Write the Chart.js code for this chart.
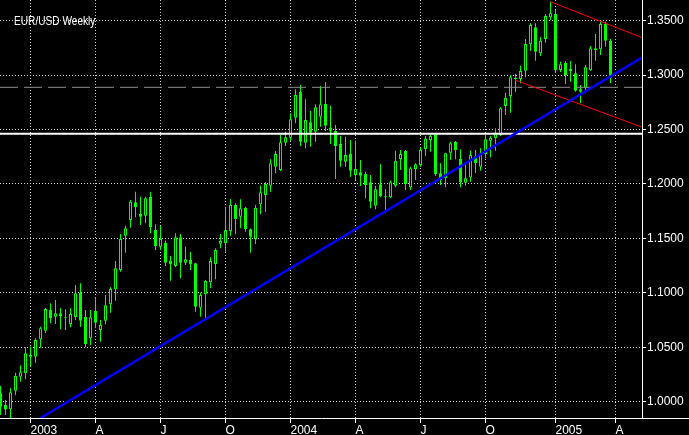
<!DOCTYPE html>
<html>
<head>
<meta charset="utf-8">
<title>EUR/USD Weekly</title>
<script src="https://cdn.jsdelivr.net/npm/chart.js@4.4.0/dist/chart.umd.min.js"></script>
<style>
  html, body { margin: 0; padding: 0; background: #000; }
  #wrap { position: relative; width: 689px; height: 435px; }
  #title {
    position: absolute; left: 14px; top: 14px; color: #fff;
    font: 12.5px "Liberation Sans", Arial, sans-serif;
    transform: scaleX(0.81); transform-origin: 0 0; white-space: nowrap;
  }
</style>
</head>
<body>
<div id="wrap">
  <canvas id="myChart" width="689" height="435"></canvas>
  <div id="title">EUR/USD Weekly</div>
</div>
<script>
'use strict';

// Weekly candles, Nov 2002 - Mar 2005

let opens = [
  1.0077, 0.9970, 0.9930, 1.0101, 1.0230, 1.0261, 1.0429, 1.0413, 1.0573, 1.0652,
  1.0842, 1.0781, 1.0812, 1.0772, 1.0714, 1.0775, 1.1001, 1.0781, 1.0582, 1.0833,
  1.0659, 1.0744, 1.0895, 1.1033, 1.1210, 1.1525, 1.1669, 1.1832, 1.1724, 1.1709,
  1.1883, 1.1577, 1.1424, 1.1461, 1.1295, 1.1247, 1.1510, 1.1277, 1.1302, 1.1271,
  1.0863, 1.0987, 1.1097, 1.1262, 1.1451, 1.1455, 1.1568, 1.1807, 1.1700, 1.1782,
  1.1584, 1.1495, 1.1813, 1.1899, 1.1984, 1.2159, 1.2128, 1.2379, 1.2425, 1.2609,
  1.2848, 1.2379, 1.2567, 1.2480, 1.2618, 1.2735, 1.2520, 1.2487, 1.2367, 1.2205,
  1.2275, 1.2082, 1.2107, 1.2092, 1.2015, 1.1800, 1.1997, 1.1878, 1.1878, 1.1984,
  1.2230, 1.2303, 1.1970, 1.2138, 1.2174, 1.2321, 1.2404, 1.2465, 1.2098, 1.2052,
  1.2287, 1.2388, 1.2230, 1.2012, 1.2060, 1.2257, 1.2159, 1.2275, 1.2398, 1.2420,
  1.2450, 1.2716, 1.2808, 1.2962, 1.2964, 1.3040, 1.3283, 1.3439, 1.3200, 1.3332,
  1.3531, 1.3561, 1.3047, 1.3114, 1.3056, 1.3017, 1.2870, 1.2879, 1.3047, 1.3246,
  1.3237, 1.3469, 1.3313
];
let highs = [
  1.0144, 1.0016, 1.0123, 1.0266, 1.0334, 1.0500, 1.0505, 1.0582, 1.0689, 1.0863,
  1.0904, 1.0934, 1.0858, 1.0849, 1.0858, 1.1072, 1.1088, 1.0842, 1.0842, 1.0959,
  1.0751, 1.0980, 1.1051, 1.1292, 1.1540, 1.1617, 1.1853, 1.1929, 1.1883, 1.1883,
  1.1929, 1.1630, 1.1614, 1.1480, 1.1338, 1.1547, 1.1540, 1.1424, 1.1378, 1.1277,
  1.1001, 1.1118, 1.1326, 1.1409, 1.1540, 1.1786, 1.1862, 1.1822, 1.1859, 1.1791,
  1.1590, 1.1807, 1.1984, 1.2018, 1.2227, 1.2303, 1.2450, 1.2480, 1.2649, 1.2870,
  1.2909, 1.2778, 1.2670, 1.2732, 1.2900, 1.2934, 1.2719, 1.2542, 1.2443, 1.2434,
  1.2404, 1.2397, 1.2220, 1.2113, 1.2082, 1.1984, 1.2181, 1.1954, 1.2030, 1.2306,
  1.2312, 1.2312, 1.2159, 1.2190, 1.2337, 1.2440, 1.2450, 1.2468, 1.2190, 1.2287,
  1.2388, 1.2395, 1.2318, 1.2181, 1.2307, 1.2312, 1.2328, 1.2450, 1.2440, 1.2511,
  1.2704, 1.2838, 1.3001, 1.3010, 1.3086, 1.3332, 1.3476, 1.3476, 1.3350, 1.3561,
  1.3674, 1.3598, 1.3123, 1.3130, 1.3130, 1.3099, 1.2909, 1.3093, 1.3267, 1.3378,
  1.3490, 1.3490, 1.3332
];
let lows = [
  0.9878, 0.9878, 0.9850, 1.0061, 1.0184, 1.0206, 1.0322, 1.0358, 1.0496, 1.0628,
  1.0720, 1.0714, 1.0665, 1.0659, 1.0683, 1.0751, 1.0689, 1.0500, 1.0521, 1.0674,
  1.0551, 1.0711, 1.0817, 1.0928, 1.1194, 1.1369, 1.1598, 1.1694, 1.1623, 1.1639,
  1.1547, 1.1393, 1.1393, 1.1247, 1.1111, 1.1235, 1.1133, 1.1256, 1.1210, 1.0827,
  1.0781, 1.0766, 1.1042, 1.1124, 1.1409, 1.1378, 1.1525, 1.1538, 1.1593, 1.1562,
  1.1369, 1.1449, 1.1721, 1.1745, 1.1929, 1.2098, 1.2120, 1.2349, 1.2395, 1.2557,
  1.2349, 1.2328, 1.2342, 1.2388, 1.2526, 1.2487, 1.2367, 1.2046, 1.2159, 1.2159,
  1.2067, 1.2037, 1.1981, 1.1868, 1.1777, 1.1767, 1.1878, 1.1761, 1.1868, 1.1969,
  1.2128, 1.1945, 1.1945, 1.2037, 1.2159, 1.2257, 1.2296, 1.2073, 1.1991, 1.1969,
  1.2220, 1.2227, 1.1969, 1.1984, 1.2021, 1.2100, 1.2122, 1.2236, 1.2245, 1.2306,
  1.2440, 1.2634, 1.2655, 1.2848, 1.2925, 1.2980, 1.3224, 1.3132, 1.3176, 1.3298,
  1.3506, 1.3022, 1.3029, 1.2918, 1.2940, 1.2848, 1.2741, 1.2863, 1.3040, 1.3132,
  1.3185, 1.3261, 1.2925
];
let closes = [
  0.9954, 0.9928, 1.0086, 1.0239, 1.0270, 1.0445, 1.0413, 1.0567, 1.0674, 1.0851,
  1.0766, 1.0812, 1.0787, 1.0766, 1.0806, 1.0996, 1.0744, 1.0527, 1.0775, 1.0726,
  1.0705, 1.0885, 1.1035, 1.1225, 1.1495, 1.1593, 1.1837, 1.1786, 1.1700, 1.1868,
  1.1602, 1.1430, 1.1495, 1.1277, 1.1265, 1.1510, 1.1277, 1.1308, 1.1262, 1.0873,
  1.0980, 1.1111, 1.1292, 1.1393, 1.1476, 1.1577, 1.1807, 1.1678, 1.1777, 1.1586,
  1.1516, 1.1782, 1.1923, 1.2000, 1.2190, 1.2275, 1.2383, 1.2429, 1.2594, 1.2817,
  1.2388, 1.2588, 1.2471, 1.2704, 1.2732, 1.2535, 1.2489, 1.2349, 1.2214, 1.2266,
  1.2122, 1.2138, 1.2076, 1.1991, 1.1837, 1.1951, 1.1890, 1.1883, 1.2015, 1.2214,
  1.2275, 1.2000, 1.2144, 1.2181, 1.2312, 1.2419, 1.2441, 1.2092, 1.2037, 1.2282,
  1.2374, 1.2312, 1.2018, 1.2052, 1.2266, 1.2193, 1.2275, 1.2410, 1.2425, 1.2471,
  1.2695, 1.2793, 1.2980, 1.2976, 1.3038, 1.3286, 1.3460, 1.3215, 1.3316, 1.3543,
  1.3568, 1.3047, 1.3099, 1.3001, 1.3038, 1.2857, 1.2848, 1.3072, 1.3246, 1.3231,
  1.3469, 1.3316, 1.2976
];

// Axis ticks (x = week number counted from the first candle)

let xTickPos = [6, 19, 32, 45, 58, 71, 84, 97, 111, 123];
let xTickLabels = ['2003', 'A', 'J', 'O', '2004', 'A', 'J', 'O', '2005', 'A'];
let yTicks = [1.00, 1.05, 1.10, 1.15, 1.20, 1.25, 1.30, 1.35];

// Drawn lines: [week, price] end points

let trendLine = [[8, 0.985], [128.3, 1.3162]];
let channelTop = [[110, 1.3674], [128.3, 1.3345]];
let channelBottom = [[102.9, 1.2955], [128.3, 1.2522]];
let supportLevel = 1.2462;
let pivotLevel = 1.2888;

// View range

let xMin = -0.1;
let xMax = 128.3;
let yMin = 0.98503;
let yMax = 1.36902;

let green = '#00ff00';
let fontFamily = '"Liberation Sans", Arial, sans-serif';

// Build datasets

let bodies = [];
let wicks = [];
let bodyFill = [];

for (let i = 0; i < opens.length; i++) {
  bodies.push({ x: i, y: [opens[i], closes[i]] });
  wicks.push({ x: i, y: [lows[i], highs[i]] });
  // rising week = hollow, falling week = solid
  bodyFill.push(closes[i] >= opens[i] ? '#000000' : green);
}

function toPoints(pairs) {
  return pairs.map(p => ({ x: p[0], y: p[1] }));
}

function levelPoints(level) {
  return [{ x: xMin, y: level }, { x: xMax, y: level }];
}

function lineSet(data, color, width, dash, order) {
  return {
    type: 'line',
    data: data,
    borderColor: color,
    borderWidth: width,
    borderDash: dash,
    pointRadius: 0,
    fill: false,
    tension: 0,
    order: order
  };
}

// no extra room for edge labels, plot fills the canvas
function noPadding(scale) {
  scale.paddingTop = 0;
  scale.paddingBottom = 0;
  scale.paddingLeft = 0;
  scale.paddingRight = 0;
}

// Bottom axis runs on under the price labels

let axisExtend = {
  id: 'axisExtend',
  afterDraw(chart) {
    let c = chart.ctx;
    let area = chart.chartArea;
    c.save();
    c.strokeStyle = '#ffffff';
    c.lineWidth = 1;
    c.beginPath();
    c.moveTo(area.right, Math.round(area.bottom) + 0.5);
    c.lineTo(chart.width, Math.round(area.bottom) + 0.5);
    c.stroke();
    c.restore();
  }
};

// Render chart

const ctx = document.getElementById('myChart').getContext('2d');
const myChart = new Chart(ctx, {
  type: 'bar',
  data: {
    datasets: [
      lineSet(levelPoints(supportLevel), '#ffffff', 2, [], -3),
      lineSet(levelPoints(pivotLevel), '#8c8c8c', 1, [18, 6], -2),
      lineSet(toPoints(channelTop), '#ff0000', 1, [], -4),
      lineSet(toPoints(channelBottom), '#ff0000', 1, [], -4),
      lineSet(toPoints(trendLine), '#0000ff', 2.5, [], -5),
      {
        label: 'Body',
        data: bodies,
        backgroundColor: bodyFill,
        borderColor: green,
        borderWidth: 1,
        borderSkipped: false,
        barThickness: 3,
        minBarLength: 1,
        inflateAmount: 0,
        grouped: false,
        order: 1
      },
      {
        label: 'Wick',
        data: wicks,
        backgroundColor: green,
        borderWidth: 0,
        barThickness: 1,
        inflateAmount: 0,
        grouped: false,
        order: 2
      }
    ]
  },
  options: {
    responsive: false,
    animation: false,
    devicePixelRatio: 1,
    layout: { padding: 0 },
    plugins: {
      legend: { display: false },
      tooltip: { enabled: false }
    },
    scales: {
      x: {
        type: 'linear',
        min: xMin,
        max: xMax,
        offset: false,
        afterBuildTicks: (scale) => { scale.ticks = xTickPos.map(v => ({ value: v })); },
        afterFit: (scale) => { scale.height = 17; noPadding(scale); },
        ticks: {
          color: '#ffffff',
          align: 'start',
          padding: 0,
          maxRotation: 0,
          autoSkip: false,
          font: { family: fontFamily, size: 12 },
          callback: (value, index) => xTickLabels[index]
        },
        grid: { offset: false, color: '#d0d0d0', tickColor: '#ffffff', tickLength: 5 },
        border: { color: '#ffffff', width: 1, dash: [1, 2] }
      },
      y: {
        position: 'right',
        min: yMin,
        max: yMax,
        afterBuildTicks: (scale) => { scale.ticks = yTicks.map(v => ({ value: v })); },
        afterFit: (scale) => { scale.width = 47; noPadding(scale); },
        ticks: {
          color: '#ffffff',
          padding: 1,
          font: { family: fontFamily, size: 12 },
          callback: (value) => value.toFixed(4)
        },
        grid: { color: '#d0d0d0', tickColor: '#ffffff', tickLength: 4 },
        border: { color: '#ffffff', width: 1, dash: [1, 2] }
      }
    }
  },
  plugins: [axisExtend]
});
</script>
</body>
</html>
